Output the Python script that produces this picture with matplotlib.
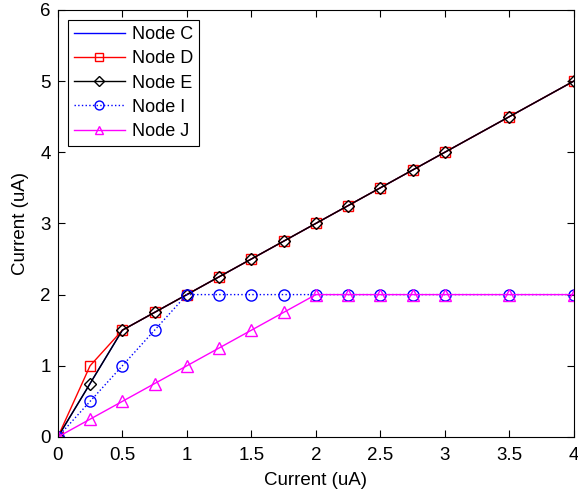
import numpy as np
import matplotlib.pyplot as plt

plt.rcParams['font.family'] = ['Liberation Sans', 'DejaVu Sans']

# data
x = [0, 0.25, 0.5, 0.75, 1, 1.25, 1.5, 1.75, 2, 2.25, 2.5, 2.75, 3, 3.5, 4]
node_c = [0, 0.75, 1.5, 1.75, 2, 2.25, 2.5, 2.75, 3, 3.25, 3.5, 3.75, 4, 4.5, 5]
node_d = [0, 1.0, 1.5, 1.75, 2, 2.25, 2.5, 2.75, 3, 3.25, 3.5, 3.75, 4, 4.5, 5]
node_e = [0, 0.75, 1.5, 1.75, 2, 2.25, 2.5, 2.75, 3, 3.25, 3.5, 3.75, 4, 4.5, 5]
node_i = [0, 0.5, 1.0, 1.5, 2, 2, 2, 2, 2, 2, 2, 2, 2, 2, 2]
node_j = [0, 0.25, 0.5, 0.75, 1, 1.25, 1.5, 1.75, 2, 2, 2, 2, 2, 2, 2]

fig = plt.figure(figsize=(5.78, 4.91), dpi=100)
ax = fig.add_axes([0.100, 0.110, 0.893, 0.870])

ax.plot(x, node_c, '-', color='blue', lw=1, label='Node C')
ax.plot(x, node_d, '-s', color='red', lw=1, ms=7, mfc='none', mew=1, label='Node D')
ax.plot(x, node_e, '-D', color='black', lw=1, ms=6.5, mfc='none', mew=1, label='Node E')
ax.plot(x, node_i, ':o', color='blue', lw=1, ms=8, mfc='none', mew=1, label='Node I')
ax.plot(x, node_j, '-^', color='magenta', lw=1, ms=8, mfc='none', mew=1, label='Node J')

ax.set_xlim(0, 4)
ax.set_ylim(0, 6)
ax.set_xticks([0, 0.5, 1, 1.5, 2, 2.5, 3, 3.5, 4])
ax.set_xticklabels(['0', '0.5', '1', '1.5', '2', '2.5', '3', '3.5', '4'])
ax.set_yticks(range(7))
ax.tick_params(direction='in', top=True, right=True, labelsize=13.5, length=5, pad=5)
ax.tick_params(axis='x', pad=7)
ax.set_xlabel('Current (uA)', fontsize=13.5, labelpad=6)
ax.set_ylabel('Current (uA)', fontsize=13.5, labelpad=8)

leg = ax.legend(loc='upper left', fontsize=13, fancybox=False, framealpha=1,
                edgecolor='black', handlelength=2.8, borderaxespad=0.55,
                labelspacing=0.4, markerscale=0.8, handletextpad=0.4,
                borderpad=0.35)
leg.get_frame().set_linewidth(0.8)

plt.savefig('out.png', dpi=100)
